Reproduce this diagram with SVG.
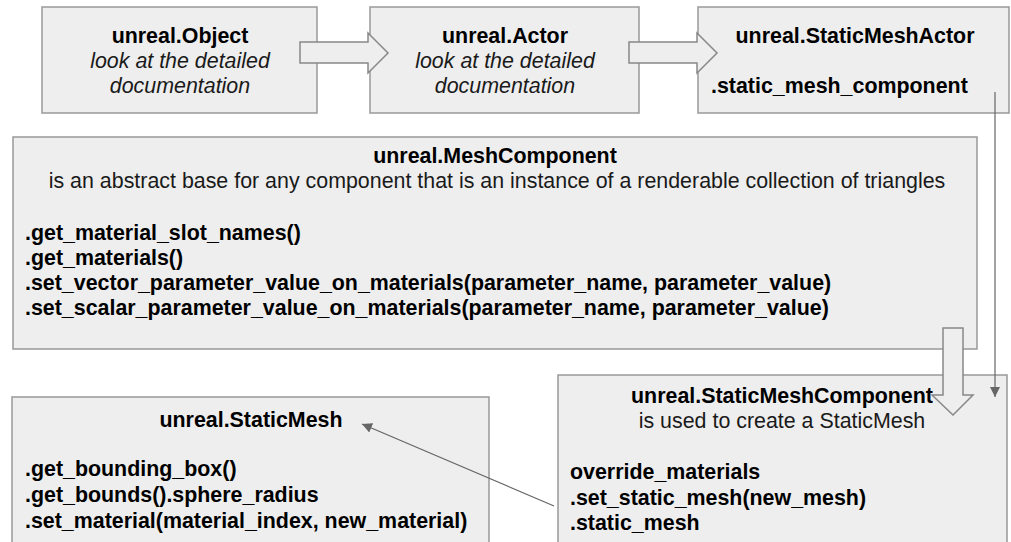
<svg xmlns="http://www.w3.org/2000/svg" width="1011" height="542" viewBox="0 0 1011 542">
<defs>
<style>
.box{fill:#eeeeee;stroke:#999999;stroke-width:1.5}
.t{font-family:"Liberation Sans",Arial,sans-serif;font-size:21.4px;fill:#1a1a1a}
.b{font-weight:bold;fill:#000}
.i{font-style:italic}
.c{text-anchor:middle}
.fat{fill:#eeeeee;stroke:#888888;stroke-width:1.5;stroke-linejoin:miter}
.thin{fill:none;stroke:#666666;stroke-width:1.2}
</style>
<marker id="ah" viewBox="0 0 10 10" refX="10" refY="5" markerWidth="10" markerHeight="10" markerUnits="userSpaceOnUse" orient="auto">
<path d="M0,0 L10,5 L0,10 z" fill="#666666"/>
</marker>
</defs>
<rect width="1011" height="542" fill="#ffffff"/>
<g id="node-object">
<rect class="box" x="42" y="7" width="275" height="106"/>
<text class="t b c" x="180" y="43">unreal.Object</text>
<text class="t i c" x="180" y="68">look at the detailed</text>
<text class="t i c" x="180" y="93">documentation</text>
</g>
<g id="node-actor">
<rect class="box" x="370" y="7" width="269" height="106"/>
<text class="t b c" x="505" y="43">unreal.Actor</text>
<text class="t i c" x="505" y="68">look at the detailed</text>
<text class="t i c" x="505" y="93">documentation</text>
</g>
<g id="node-staticmeshactor">
<rect class="box" x="698" y="7" width="311" height="106"/>
<text class="t b c" x="855" y="43">unreal.StaticMeshActor</text>
<text class="t b" x="711" y="93">.static_mesh_component</text>
</g>
<g id="node-meshcomponent">
<rect class="box" x="13" y="137" width="964" height="212"/>
<text class="t b c" x="495" y="163">unreal.MeshComponent</text>
<text class="t c" x="497" y="188">is an abstract base for any component that is an instance of a renderable collection of triangles</text>
<text class="t b" x="25" y="240">.get_material_slot_names()</text>
<text class="t b" x="25" y="265">.get_materials()</text>
<text class="t b" x="25" y="290">.set_vector_parameter_value_on_materials(parameter_name, parameter_value)</text>
<text class="t b" x="25" y="315">.set_scalar_parameter_value_on_materials(parameter_name, parameter_value)</text>
</g>
<g id="node-staticmesh">
<rect class="box" x="12" y="397" width="477" height="150"/>
<text class="t b c" x="251" y="427">unreal.StaticMesh</text>
<text class="t b" x="25" y="476">.get_bounding_box()</text>
<text class="t b" x="25" y="502">.get_bounds().sphere_radius</text>
<text class="t b" x="25" y="528">.set_material(material_index, new_material)</text>
</g>
<g id="node-staticmeshcomponent">
<rect class="box" x="558" y="375" width="449" height="172"/>
<text class="t b c" x="782" y="403">unreal.StaticMeshComponent</text>
<text class="t c" x="782" y="428">is used to create a StaticMesh</text>
<text class="t b" x="570" y="479">override_materials</text>
<text class="t b" x="570" y="505">.set_static_mesh(new_mesh)</text>
<text class="t b" x="570" y="530">.static_mesh</text>
</g>
<g id="connectors">
<polygon class="fat" points="300,42 368,42 368,33 388,53 368,73 368,63 300,63"/>
<polygon class="fat" points="629,42 697,42 697,33 717,53 697,73 697,63 629,63"/>
<polygon class="fat" points="943,328 963,328 963,395 973,395 953,415 932,395 943,395"/>
<line class="thin" x1="995" y1="92" x2="995" y2="397" marker-end="url(#ah)"/>
<line class="thin" x1="554" y1="506" x2="362" y2="424" marker-end="url(#ah)"/>
</g>
</svg>
